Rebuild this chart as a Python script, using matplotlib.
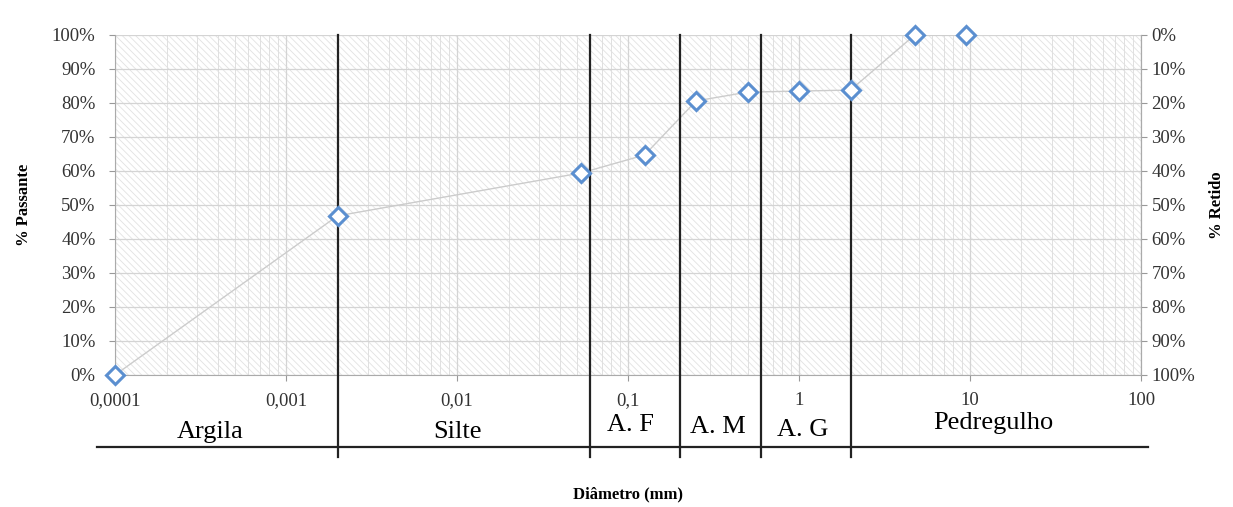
# curva granulométrica
import numpy as np
import matplotlib.pyplot as plt
from matplotlib.ticker import FixedLocator, FuncFormatter, LogLocator
import matplotlib.transforms as mtransforms

# dados
diametro = [0.0001, 0.002, 0.053, 0.125, 0.25, 0.5, 1.0, 2.0, 4.75, 9.5]
passante = [0.0, 46.8, 59.4, 64.7, 80.6, 83.2, 83.5, 83.8, 100.0, 100.0]
limites = [0.002, 0.06, 0.2, 0.6, 2.0]
classes = ['Argila', 'Silte', 'A. F', 'A. M', 'A. G', 'Pedregulho']
pos_classes = [0.00036, 0.0101, 0.103, 0.336, 1.055, 13.6]
xticks = [0.0001, 0.001, 0.01, 0.1, 1, 10, 100]
xlabels = ['0,0001', '0,001', '0,01', '0,1', '1', '10', '100']

plt.rcParams['font.family'] = ['Liberation Serif', 'DejaVu Serif']
plt.rcParams['hatch.linewidth'] = 0.6

fig = plt.figure(figsize=(12.33, 5.07), dpi=100)
ax = fig.add_axes([0.0933, 0.2604, 0.8321, 0.6706])

ax.set_xscale('log')
ax.set_xlim(0.0001, 100)
ax.set_ylim(0, 100)

# fundo hachurado
ax.add_patch(plt.Rectangle((0, 0), 1, 1, transform=ax.transAxes, facecolor='white',
                           edgecolor='#e2e2e2', hatch='\\\\\\\\\\', lw=0, zorder=0))
ax.xaxis.set_minor_locator(LogLocator(base=10, subs=np.arange(2, 10)))
ax.grid(True, which='major', color='#d4d4d4', lw=0.9)
ax.grid(True, which='minor', axis='x', color='#e0e0e0', lw=0.7)
ax.set_axisbelow(True)

ax.plot(diametro, passante, color='#cccccc', lw=1.0, zorder=3)
ax.plot(diametro, passante, ls='none', marker='D', ms=9, mfc='white',
        mec='#5b8fd0', mew=2.2, zorder=5, clip_on=False)

trans = mtransforms.blended_transform_factory(ax.transData, ax.transAxes)
for x in limites:
    ax.plot([x, x], [-0.241, 1.0], transform=trans, color='#222222', lw=1.6,
            clip_on=False, zorder=4)
ax.plot([-0.0175, 1.007], [-0.212, -0.212], transform=ax.transAxes, color='#222222',
        lw=1.6, clip_on=False)
ys = [-0.168, -0.168, -0.148, -0.154, -0.162, -0.14]
for nome, x, y in zip(classes, pos_classes, ys):
    ax.text(x, y, nome, transform=trans, ha='center', va='center', fontsize=19)

ax.xaxis.set_major_locator(FixedLocator(xticks))
ax.set_xticklabels(xlabels)
ax.tick_params(axis='x', which='minor', length=0)
ax.tick_params(axis='both', which='major', labelsize=13.5, colors='#333333', length=4,
               color='#999999')
ax.tick_params(axis='x', which='major', pad=8)
ax.tick_params(axis='y', which='major', pad=10)
ax.set_yticks(range(0, 101, 10))
ax.yaxis.set_major_formatter(FuncFormatter(lambda v, p: f'{v:.0f}%'))
for s in ax.spines.values():
    s.set_color('#aaaaaa')
ax.spines['top'].set_visible(False)

ax.set_ylabel('% Passante', fontsize=12, fontweight='bold', labelpad=14)
ax.text(0.5, -0.35, 'Diâmetro (mm)', transform=ax.transAxes, ha='center', va='center',
        fontsize=12, fontweight='bold')

ax2 = ax.twinx()
ax2.set_ylim(100, 0)
ax2.set_yticks(range(0, 101, 10))
ax2.yaxis.set_major_formatter(FuncFormatter(lambda v, p: f'{v:.0f}%'))
ax2.tick_params(axis='y', labelsize=13.5, colors='#333333', length=4, color='#999999')
for s in ax2.spines.values():
    s.set_visible(False)
ax2.spines['right'].set_visible(True)
ax2.spines['right'].set_color('#aaaaaa')
ax2.set_ylabel('% Retido', fontsize=12, fontweight='bold', labelpad=10)

fig.savefig('out.png', dpi=100)
